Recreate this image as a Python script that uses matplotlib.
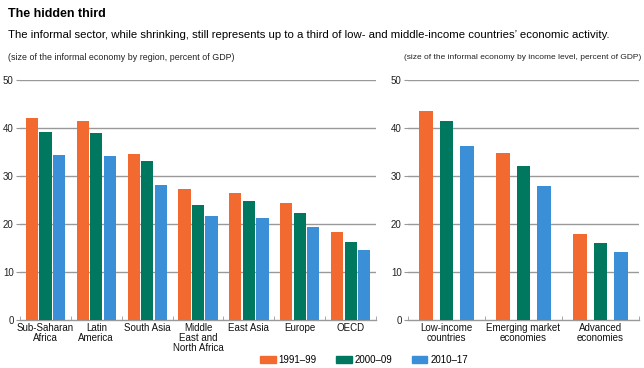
import numpy as np
import matplotlib
matplotlib.use('Agg')
import matplotlib.pyplot as plt
from matplotlib.patches import Patch

plt.rcParams['font.family'] = ['Liberation Sans', 'DejaVu Sans']

# data
regions = ['Sub-Saharan\nAfrica', 'Latin\nAmerica', 'South Asia',
           'Middle\nEast and\nNorth Africa', 'East Asia', 'Europe', 'OECD']
region_9199 = [42.1, 41.5, 34.7, 27.4, 26.6, 24.5, 18.3]
region_0009 = [39.3, 39.0, 33.2, 24.1, 24.8, 22.3, 16.2]
region_1017 = [34.4, 34.2, 28.2, 21.8, 21.3, 19.4, 14.7]

income = ['Low-income\ncountries', 'Emerging market\neconomies', 'Advanced\neconomies']
income_9199 = [43.6, 34.9, 18.0]
income_0009 = [41.5, 32.2, 16.0]
income_1017 = [36.3, 27.9, 14.2]

periods = ['1991\u201399', '2000\u201309', '2010\u201317']
colors = ['#F26A30', '#00775F', '#3A8FD6']
yticks = [0, 10, 20, 30, 40, 50]

fig = plt.figure(figsize=(6.44, 3.68), dpi=100)
ax1 = fig.add_axes([0.031, 0.130, 0.553, 0.652])
ax2 = fig.add_axes([0.6335, 0.130, 0.3587, 0.652])

def draw(ax, cats, series, width):
    x = np.arange(len(cats))
    step = 0.266
    for i, (vals, c) in enumerate(zip(series, colors)):
        ax.bar(x + (i - 1) * step, vals, width, color=c, zorder=3)
    ax.set_xlim(-0.5, len(cats) - 0.5)
    ax.set_ylim(0, 50)
    ax.set_yticks(yticks)
    ax.set_yticklabels([str(t) for t in yticks], fontsize=7, color='#222222')
    ax.set_xticks(x)
    ax.set_xticklabels(cats, fontsize=7, color='#111111', linespacing=1.0)
    ax.set_xticks(np.arange(len(cats) + 1) - 0.5, minor=True)
    ax.tick_params(axis='x', which='major', length=0, pad=2)
    ax.tick_params(axis='x', which='minor', length=3, color='#999999', direction='in')
    ax.tick_params(axis='y', length=3, color='#999999', pad=1.5)
    for s in ['top', 'right', 'left']:
        ax.spines[s].set_visible(False)
    ax.spines['bottom'].set_color('#999999')
    ax.spines['bottom'].set_linewidth(1.0)
    for t in yticks[1:]:
        ax.axhline(t, color='#999999', lw=1.0, zorder=1)

draw(ax1, regions, [region_9199, region_0009, region_1017], 0.24)
draw(ax2, income, [income_9199, income_0009, income_1017], 0.17)

fig.text(0.012, 0.962, 'The hidden third', fontsize=9, fontweight='bold', va='center')
fig.text(0.012, 0.905, 'The informal sector, while shrinking, still represents up to a third of '
         'low- and middle-income countries\u2019 economic activity.', fontsize=8.2, va='center')
fig.text(0.012, 0.845, '(size of the informal economy by region, percent of GDP)',
         fontsize=6.4, va='center', color='#222222')
fig.text(0.995, 0.845, '(size of the informal economy by income level, percent of GDP)',
         fontsize=6.0, va='center', ha='right', color='#222222')

handles = [Patch(color=c, label=p) for c, p in zip(colors, periods)]
fig.legend(handles=handles, loc='center', bbox_to_anchor=(0.565, 0.022), ncol=3,
           frameon=False, fontsize=7, handlelength=1.6, handleheight=0.8,
           handletextpad=0.3, columnspacing=2.0)

fig.savefig('out.png', dpi=100)
